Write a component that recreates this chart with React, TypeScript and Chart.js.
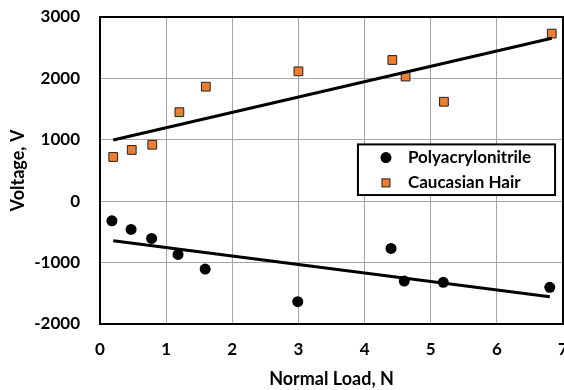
import React, { useEffect, useRef } from "react";
import { Chart, registerables } from "chart.js";

Chart.register(...registerables);

const xTickValues = [0, 1, 2, 3, 4, 5, 6, 7];
const yTickValues = [-2000, -1000, 0, 1000, 2000, 3000];

const panLabel = "Polyacrylonitrile";
const panLoad = [0.18, 0.47, 0.78, 1.18, 1.59, 2.99, 4.4, 4.6, 5.19, 6.8];
const panVoltage = [-320, -460, -607, -867, -1106, -1637, -770, -1300, -1322, -1403];

const hairLabel = "Caucasian Hair";
const hairLoad = [0.2, 0.48, 0.79, 1.2, 1.6, 3.0, 4.42, 4.62, 5.2, 6.83];
const hairVoltage = [720, 835, 920, 1450, 1865, 2115, 2300, 2030, 1620, 2730];

const panTrendLoad = [0.2, 6.8];
const panTrendVoltage = [-645, -1556];
const hairTrendLoad = [0.2, 6.83];
const hairTrendVoltage = [997, 2655];

const FONT = "Lato, 'Open Sans', sans-serif";
const ORANGE = "#ED7D31";

const zip = (xs: number[], ys: number[]) => xs.map((x, i) => ({ x, y: ys[i] }));

const framePlugin = {
  id: "frame",
  afterDraw(chart: any) {
    const { ctx, chartArea: a } = chart;
    ctx.save();
    ctx.strokeStyle = "#000";
    ctx.lineWidth = 2;
    ctx.strokeRect(a.left, a.top, a.right - a.left, a.bottom - a.top);
    ctx.restore();
  },
};

const legendPlugin = {
  id: "boxLegend",
  afterDraw(chart: any) {
    const { ctx } = chart;
    const xs = chart.scales.x;
    const ys = chart.scales.y;
    const left = xs.getPixelForValue(3.9);
    const right = xs.getPixelForValue(6.88);
    const top = ys.getPixelForValue(925);
    const bottom = ys.getPixelForValue(100);
    ctx.save();
    ctx.fillStyle = "#fff";
    ctx.fillRect(left, top, right - left, bottom - top);
    ctx.strokeStyle = "#000";
    ctx.lineWidth = 2;
    ctx.strokeRect(left, top, right - left, bottom - top);
    const rowH = (bottom - top) / 2;
    const mx = left + 28;
    const tx = left + 50;
    ctx.font = `bold 17px ${FONT}`;
    ctx.textBaseline = "middle";
    ctx.textAlign = "left";
    const y1 = top + rowH * 0.5 + 0.5;
    ctx.beginPath();
    ctx.arc(mx, y1, 5.5, 0, Math.PI * 2);
    ctx.fillStyle = "#000";
    ctx.fill();
    ctx.fillText(chart.data.datasets[2].label, tx, y1);
    const y2 = top + rowH * 1.5 + 0.5;
    ctx.fillStyle = ORANGE;
    ctx.fillRect(mx - 4, y2 - 4, 8, 8);
    ctx.strokeStyle = "#222";
    ctx.lineWidth = 1;
    ctx.strokeRect(mx - 4, y2 - 4, 8, 8);
    ctx.fillStyle = "#000";
    ctx.fillText(chart.data.datasets[3].label, tx, y2);
    ctx.restore();
  },
};

export default function App() {
  const ref = useRef<HTMLCanvasElement>(null);
  useEffect(() => {
    document.body.style.margin = "0";
    const chart = new Chart(ref.current!, {
      type: "scatter",
      data: {
        datasets: [
          {
            type: "line",
            label: "pan trend",
            data: zip(panTrendLoad, panTrendVoltage),
            borderColor: "#000",
            borderWidth: 3,
            pointRadius: 0,
            fill: false,
          },
          {
            type: "line",
            label: "hair trend",
            data: zip(hairTrendLoad, hairTrendVoltage),
            borderColor: "#000",
            borderWidth: 3,
            pointRadius: 0,
            fill: false,
          },
          {
            label: panLabel,
            data: zip(panLoad, panVoltage),
            backgroundColor: "#000",
            borderColor: "#000",
            pointStyle: "circle",
            pointRadius: 5.5,
            borderWidth: 0,
          },
          {
            label: hairLabel,
            data: zip(hairLoad, hairVoltage),
            backgroundColor: ORANGE,
            borderColor: "#222",
            borderWidth: 1,
            pointStyle: "rect",
            pointRadius: 6.2,
          },
        ],
      },
      options: {
        animation: false,
        responsive: false,
        layout: { autoPadding: false, padding: { top: 17, right: 1, left: 0, bottom: 0 } },
        plugins: { legend: { display: false }, tooltip: { enabled: false } },
        scales: {
          x: {
            type: "linear",
            min: 0,
            max: 7,
            afterBuildTicks: (s: any) => {
              s.ticks = xTickValues.map((v) => ({ value: v }));
            },
            ticks: {
              font: { family: FONT, weight: "bold", size: 17 },
              color: "#000",
              padding: 15,
              callback: (v: any) => String(v),
            },
            grid: { color: "#a6a6a6", lineWidth: 1, drawTicks: false },
            border: { display: false },
            title: {
              display: true,
              text: "Normal Load, N",
              font: { family: FONT, weight: "bold", size: 18 },
              color: "#000",
              padding: { top: 3, bottom: 0 },
            },
            afterFit: (s: any) => {
              s.height = 66;
              s.paddingLeft = 0;
              s.paddingRight = 0;
            },
          },
          y: {
            type: "linear",
            min: -2000,
            max: 3000,
            afterBuildTicks: (s: any) => {
              s.ticks = yTickValues.map((v) => ({ value: v }));
            },
            ticks: {
              font: { family: FONT, weight: "bold", size: 17 },
              color: "#000",
              padding: 20,
              callback: (v: any) => String(v),
            },
            grid: { color: "#a6a6a6", lineWidth: 1, drawTicks: false },
            border: { display: false },
            title: {
              display: true,
              text: "Voltage, V",
              font: { family: FONT, weight: "bold", size: 18 },
              color: "#000",
              padding: { top: 7, bottom: 0 },
            },
            afterFit: (s: any) => {
              s.width = 100;
              s.paddingTop = 0;
              s.paddingBottom = 0;
            },
          },
        },
      },
      plugins: [framePlugin, legendPlugin],
    });
    return () => chart.destroy();
  }, []);
  return (
    <div style={{ width: 564, height: 390, background: "#fff" }}>
      <canvas ref={ref} width={564} height={390} />
    </div>
  );
}
